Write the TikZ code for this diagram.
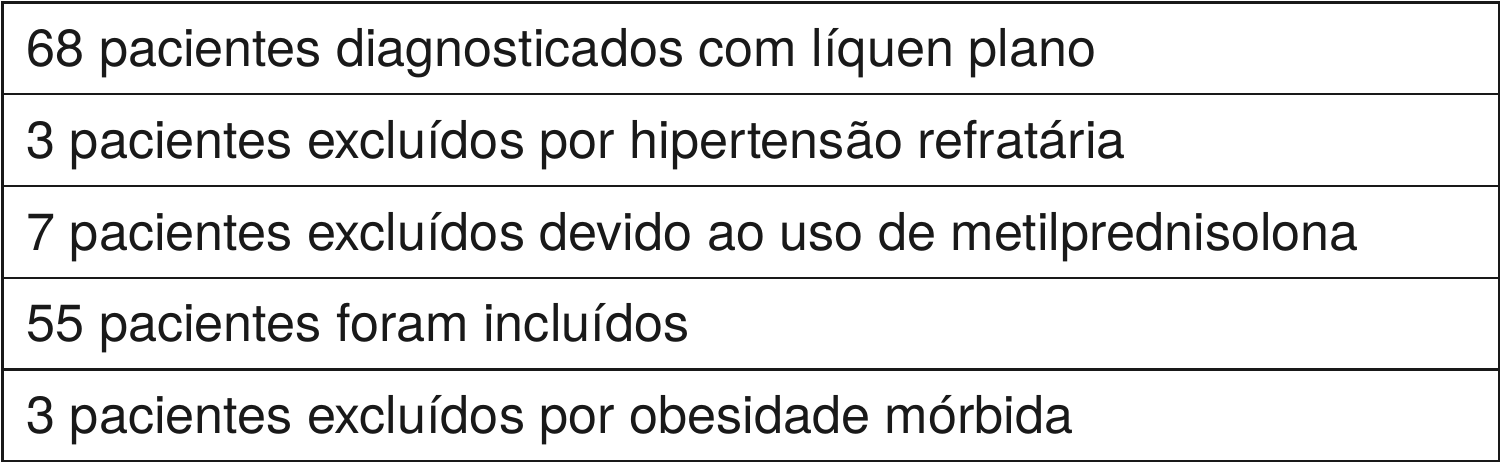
\documentclass[tikz,border=0pt]{standalone}
\usepackage{fontspec}
\setmainfont{TeX Gyre Heros}
\usetikzlibrary{calc}
\begin{document}
\begin{tikzpicture}[x=1pt,y=-1pt,
  rowbox/.style={draw=black!90, line width=2.6pt, rectangle, anchor=north west, inner sep=0pt, minimum width=1497pt},
  rowtext/.style={anchor=base west, inner sep=0pt, text=black!90, font=\fontsize{52.2}{62}\selectfont}]
\useasboundingbox (0,0) rectangle (1500,462);
\fill[white] (0,0) rectangle (1500,462);
\node[rowbox, minimum height=91.5pt] (r1) at (1.3,1.3) {};
\node[rowbox, minimum height=92pt] (r2) at (1.3,92.8) {};
\node[rowbox, minimum height=92pt] (r3) at (1.3,184.8) {};
\node[rowbox, minimum height=91.5pt] (r4) at (1.3,276.8) {};
\node[rowbox, minimum height=91.5pt] (r5) at (1.3,368.3) {};
\node[rowtext] (t1) at ($(r1.south west)+(25,-29)$) {68 pacientes diagnosticados com líquen plano};
\node[rowtext] (t2) at ($(r2.south west)+(25,-29)$) {3 pacientes excluídos por hipertensão refratária};
\node[rowtext] (t3) at ($(r3.south west)+(25,-29)$) {7 pacientes excluídos devido ao uso de metilprednisolona};
\node[rowtext] (t4) at ($(r4.south west)+(25,-29)$) {55 pacientes foram incluídos};
\node[rowtext] (t5) at ($(r5.south west)+(25,-29)$) {3 pacientes excluídos por obesidade mórbida};
\end{tikzpicture}
\end{document}
